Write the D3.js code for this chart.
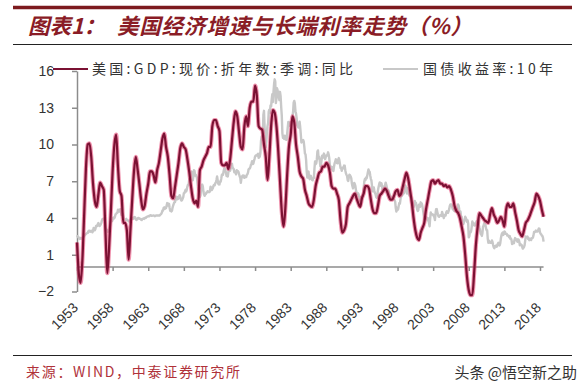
<!DOCTYPE html>
<html><head><meta charset="utf-8">
<script src="https://cdn.jsdelivr.net/npm/d3@7/dist/d3.min.js"></script>
<style>body{margin:0;background:#fff;} svg{display:block}</style>
</head><body><svg id="c" width="583" height="392"></svg>
<script>
// ---- data ----
const xTickLabels = ["1953","1958","1963","1968","1973","1978","1983","1988","1993","1998","2003","2008","2013","2018"];
const yTickValues = [-2, 1, 4, 7, 10, 13, 16];
const seriesNames = ["美国:GDP:现价:折年数:季调:同比", "国债收益率:10年"];
// quarterly nominal GDP yoy, 1953Q4 .. 2019Q2
const gdpYoY = [
 2.0,
 -0.5,-1.3,0.5,4.2,  8.0,10.0,10.1,9.0,  6.8,5.4,4.9,5.9,  6.9,6.6,6.3,2.8,
 -0.5,1.5,4.5,7.8,  10.0,10.8,8.2,6.2,  5.8,3.6,3.6,3.0,  0.6,3.0,5.5,7.8,
 9.0,8.0,6.8,5.5,  4.7,5.0,6.0,6.8,  7.8,7.8,7.5,6.9,  7.9,8.5,9.5,10.5,
 10.9,9.8,9.0,7.5,  5.8,5.6,6.5,7.5,  8.5,9.7,10.1,9.8,  9.6,8.8,7.8,6.6,
 5.6,5.2,5.4,4.9,  7.9,8.2,8.7,9.0,  9.3,9.8,9.8,11.5,  12.0,12.0,11.5,11.1,
 8.5,8.3,8.3,8.5,  8.0,8.8,10.3,11.8,  12.7,12.3,11.0,9.8,  9.6,11.5,12.3,11.5,
 13.0,13.5,13.5,14.8,  14.0,11.5,11.3,11.2,  10.0,9.0,7.1,9.0,  11.5,12.8,12.6,11.5,
 9.5,7.0,4.5,3.3,  4.8,7.5,9.8,10.8,  12.3,11.8,10.0,9.0,  7.8,7.4,7.2,6.3,
 5.8,5.2,5.0,4.9,  5.5,6.6,7.2,7.7,  7.8,8.2,8.2,8.5,  8.3,7.7,6.6,6.4,
 6.4,6.0,5.5,3.8,  2.8,3.0,3.5,4.9,  5.2,5.5,5.8,6.0,  5.6,5.2,4.9,5.6,
 6.0,6.6,6.6,6.4,  5.5,4.7,4.4,4.4,  5.0,5.8,6.0,6.2,  6.4,6.2,5.8,5.5,
 5.5,5.8,6.2,6.3,  5.8,6.0,6.6,7.2,  7.7,7.2,6.3,5.3,  4.0,3.0,2.4,2.2,
 2.8,3.2,3.6,4.7,  5.5,6.3,7.0,7.1,  6.8,7.0,7.1,6.8,  6.8,6.6,6.7,6.5,
 6.6,6.3,5.8,5.0,  4.6,4.4,4.0,3.3,  2.5,1.0,-0.8,-1.9,  -2.3,-2.3,-0.5,1.8,
 3.3,4.4,4.2,4.0,  3.8,3.7,3.6,4.3,  4.8,4.3,4.0,3.6,  3.8,4.1,3.8,3.3,
 4.7,5.2,4.9,4.9,  5.2,4.5,3.8,3.0,  2.7,2.5,3.0,3.6,  3.8,4.1,4.5,4.9,
 5.3,6.0,5.8,5.4,  4.7,4.1
];
// monthly 10y treasury yield, Dec 1953 .. Jun 2019
const treasury10y = [
 2.59,
 2.48,2.47,2.37,2.29,2.37,2.38,2.30,2.36,2.38,2.43,2.48,2.51,
 2.61,2.65,2.68,2.75,2.76,2.78,2.90,2.97,2.97,2.88,2.89,2.96,
 2.90,2.84,2.96,3.18,3.07,3.00,3.11,3.33,3.38,3.34,3.49,3.59,
 3.46,3.34,3.41,3.48,3.60,3.80,3.93,3.93,3.92,3.97,3.72,3.21,
 3.09,3.05,2.98,2.88,2.92,2.97,3.20,3.54,3.76,3.80,3.74,3.86,
 4.02,3.96,3.99,4.12,4.31,4.34,4.40,4.43,4.68,4.53,4.53,4.69,
 4.72,4.49,4.25,4.28,4.35,4.15,3.90,3.80,3.80,3.89,3.93,3.84,
 3.84,3.78,3.74,3.78,3.71,3.88,3.92,4.04,3.98,3.92,3.94,4.06,
 4.08,4.04,3.93,3.84,3.87,3.91,4.01,3.98,3.98,3.93,3.92,3.86,
 3.83,3.92,3.93,3.97,3.93,3.99,4.02,4.00,4.08,4.11,4.12,4.13,
 4.17,4.15,4.22,4.23,4.20,4.17,4.19,4.19,4.20,4.19,4.15,4.18,
 4.19,4.21,4.21,4.20,4.21,4.21,4.20,4.25,4.29,4.35,4.45,4.62,
 4.61,4.83,4.87,4.75,4.78,4.81,5.02,5.22,5.18,5.01,5.16,4.84,
 4.58,4.63,4.54,4.59,4.85,5.02,5.16,5.28,5.30,5.48,5.75,5.70,
 5.53,5.56,5.74,5.64,5.87,5.72,5.50,5.42,5.46,5.58,5.70,6.03,
 6.04,6.19,6.30,6.17,6.32,6.57,6.72,6.69,7.16,7.10,7.14,7.65,
 7.79,7.24,7.07,7.39,7.91,7.84,7.46,7.53,7.39,7.33,6.84,6.39,
 6.24,6.11,5.70,5.83,6.39,6.52,6.73,6.58,6.14,5.93,5.81,5.93,
 5.95,6.08,6.07,6.19,6.13,6.11,6.11,6.21,6.55,6.48,6.28,6.36,
 6.46,6.64,6.71,6.67,6.85,6.90,7.13,7.40,7.09,6.79,6.73,6.74,
 6.99,6.96,7.21,7.51,7.58,7.54,7.81,8.04,8.04,7.90,7.68,7.43,
 7.50,7.39,7.73,8.23,8.06,7.86,8.06,8.40,8.43,8.14,8.05,8.00,
 7.74,7.79,7.73,7.56,7.90,7.86,7.83,7.77,7.59,7.41,7.29,6.87,
 7.21,7.39,7.46,7.37,7.46,7.28,7.33,7.40,7.34,7.52,7.58,7.69,
 7.96,8.03,8.04,8.15,8.35,8.46,8.64,8.41,8.42,8.64,8.81,9.01,
 9.10,9.10,9.12,9.18,9.25,8.91,8.95,9.03,9.33,10.30,10.65,10.39,
 10.80,12.41,12.75,11.47,10.18,9.78,10.25,11.10,11.51,11.75,12.68,12.84,
 12.57,13.19,13.12,13.68,14.10,13.47,14.28,14.94,15.32,15.15,13.39,13.72,
 14.59,14.43,13.86,13.87,13.62,14.30,13.95,13.06,12.34,10.91,10.55,10.54,
 10.46,10.72,10.51,10.40,10.38,10.85,11.38,11.85,11.65,11.54,11.69,11.83,
 11.67,11.84,12.32,12.63,13.41,13.56,13.36,12.72,12.52,12.16,11.57,11.50,
 11.38,11.51,11.86,11.43,10.85,10.16,10.31,10.33,10.37,10.24,9.78,9.26,
 9.19,8.70,7.78,7.30,7.71,7.80,7.30,7.17,7.45,7.43,7.25,7.11,
 7.08,7.25,7.25,8.02,8.61,8.40,8.45,8.76,9.42,9.52,8.86,8.99,
 8.67,8.21,8.37,8.72,9.09,8.92,9.06,9.26,8.98,8.80,8.96,9.11,
 9.09,9.17,9.36,9.18,8.86,8.28,8.02,8.11,8.19,8.01,7.87,7.84,
 8.21,8.47,8.59,8.79,8.76,8.48,8.47,8.75,8.89,8.72,8.39,8.08,
 8.09,7.85,8.11,8.04,8.07,8.28,8.27,7.90,7.65,7.53,7.42,7.09,
 7.03,7.34,7.54,7.48,7.39,7.26,6.84,6.59,6.42,6.59,6.87,6.77,
 6.60,6.26,5.98,5.97,6.04,5.96,5.81,5.68,5.36,5.33,5.72,5.77,
 5.75,5.97,6.48,6.97,7.18,7.10,7.30,7.24,7.46,7.74,7.96,7.81,
 7.78,7.47,7.20,7.06,6.63,6.17,6.28,6.49,6.20,6.04,5.93,5.71,
 5.65,5.81,6.27,6.51,6.74,6.91,6.87,6.64,6.83,6.53,6.20,6.30,
 6.58,6.42,6.69,6.89,6.71,6.49,6.22,6.30,6.21,6.03,5.88,5.81,
 5.54,5.57,5.65,5.64,5.65,5.50,5.46,5.34,4.81,4.53,4.83,4.65,
 4.72,5.00,5.23,5.18,5.54,5.90,5.79,5.94,5.92,6.11,6.03,6.28,
 6.66,6.52,6.26,5.99,6.44,6.10,6.05,5.83,5.80,5.74,5.72,5.24,
 5.16,5.10,4.89,5.14,5.39,5.28,5.24,4.97,4.73,4.57,4.65,5.09,
 5.04,4.91,5.28,5.21,5.16,4.93,4.65,4.26,3.87,3.94,4.05,4.03,
 4.05,3.90,3.81,3.96,3.57,3.33,3.98,4.45,4.27,4.29,4.30,4.27,
 4.15,4.08,3.83,4.35,4.72,4.73,4.50,4.28,4.13,4.10,4.19,4.23,
 4.22,4.17,4.50,4.34,4.14,4.00,4.18,4.26,4.20,4.46,4.54,4.47,
 4.42,4.57,4.72,4.99,5.11,5.11,5.09,4.88,4.72,4.73,4.60,4.56,
 4.76,4.72,4.56,4.69,4.75,5.10,5.00,4.67,4.52,4.53,4.15,4.10,
 3.74,3.74,3.51,3.68,3.88,4.10,4.01,3.89,3.69,3.81,3.53,2.42,
 2.52,2.87,2.82,2.93,3.29,3.72,3.56,3.59,3.40,3.39,3.40,3.59,
 3.73,3.69,3.73,3.85,3.42,3.20,3.01,2.70,2.65,2.54,2.76,3.29,
 3.39,3.58,3.41,3.46,3.17,3.00,3.00,2.30,1.98,2.15,2.01,1.98,
 1.97,1.97,2.17,2.05,1.80,1.62,1.53,1.68,1.72,1.75,1.65,1.72,
 1.91,1.98,1.96,1.76,1.93,2.30,2.58,2.74,2.81,2.62,2.72,2.90,
 2.86,2.71,2.72,2.71,2.56,2.60,2.54,2.42,2.53,2.30,2.33,2.21,
 1.88,1.98,2.04,1.94,2.20,2.36,2.32,2.17,2.17,2.07,2.26,2.24,
 2.09,1.78,1.89,1.81,1.81,1.64,1.50,1.56,1.63,1.76,2.14,2.49,
 2.43,2.42,2.48,2.30,2.30,2.19,2.32,2.21,2.20,2.36,2.35,2.40,
 2.58,2.86,2.84,2.87,2.98,2.91,2.89,2.89,3.00,3.15,3.12,2.83,
 2.71,2.68,2.57,2.53,2.40,2.07
];

// ---- chart ----
const svg = d3.select("#c");
const cjk = "'Noto Sans CJK SC', 'Noto Sans', sans-serif";
const latin = "'Liberation Sans', Arial, sans-serif";
const darkRed = "#8a1c26";

// header
svg.append("line").attr("x1", 13).attr("x2", 572).attr("y1", 7.5).attr("y2", 7.5)
  .attr("stroke", "#7d1a1e").attr("stroke-width", 3.5);
const tg = svg.append("g").attr("font-family", cjk).attr("font-size", 21.5)
  .attr("font-style", "italic").attr("font-weight", 700).attr("fill", darkRed);
tg.append("text").attr("x", 28).attr("y", 34).text("图表1：");
tg.append("text").attr("x", 117).attr("y", 34).attr("textLength", 355).attr("lengthAdjust", "spacing")
  .text("美国经济增速与长端利率走势（%）");
svg.append("line").attr("x1", 13).attr("x2", 572).attr("y1", 44.5).attr("y2", 44.5)
  .attr("stroke", "#222").attr("stroke-width", 1);

// scales: x in quarter index (0 = first quarter shown, tick every 20 quarters)
const x = d3.scaleLinear().domain([0, 260]).range([77, 540]);
const y = d3.scaleLinear().domain([-2, 16]).range([291.5, 71]);

// y axis
const yAxis = svg.append("g").attr("transform", `translate(${x(0)},0)`)
  .call(d3.axisLeft(y).tickValues(yTickValues).tickSize(5).tickSizeOuter(0).tickPadding(18));
yAxis.select(".domain").attr("stroke", "#8c8c8c").attr("stroke-width", 1.5);
yAxis.selectAll(".tick line").attr("stroke", "#8c8c8c").attr("stroke-width", 1.5);
yAxis.selectAll(".tick text").attr("font-family", latin).attr("font-size", 14).attr("fill", "#333")
  .text(d => d < 0 ? "\u2212" + Math.abs(d) : d);

// x axis at zero
const tickIdx = xTickLabels.map((_, i) => i * 20);
const lastIdx = gdpYoY.length - 1;
const xAxis = svg.append("g").attr("transform", `translate(0,${y(0)})`)
  .call(d3.axisBottom(x).tickValues(tickIdx).tickSize(4).tickSizeOuter(0).tickFormat(""));
xAxis.select(".domain").attr("d", `M${x(0)},0H${x(lastIdx)}`)
  .attr("stroke", "#8c8c8c").attr("stroke-width", 1.5);
xAxis.selectAll(".tick line").attr("stroke", "#8c8c8c").attr("stroke-width", 1.5);

// x labels (rotated, below plot)
svg.append("g").selectAll("text").data(xTickLabels).join("text")
  .attr("transform", (d, i) => `translate(${x(tickIdx[i]) + 2},${y(-2) + 17}) rotate(-45)`)
  .attr("text-anchor", "end")
  .attr("font-family", latin).attr("font-size", 14).attr("fill", "#333")
  .text(d => d);

// lines
const yieldLine = d3.line().x((d, i) => x(i / 3)).y(d => y(d));
const gdpLine = d3.line().x((d, i) => x(i)).y(d => y(d)).curve(d3.curveMonotoneX);
svg.append("path").datum(treasury10y).attr("d", yieldLine)
  .attr("fill", "none").attr("stroke", "#c8c8c8").attr("stroke-width", 2.4).attr("stroke-linejoin", "round");
svg.append("path").datum(gdpYoY).attr("d", gdpLine)
  .attr("fill", "none").attr("stroke", "#e23a6c").attr("stroke-opacity", 0.55).attr("stroke-width", 4.2).attr("stroke-linejoin", "round");
svg.append("path").datum(gdpYoY).attr("d", gdpLine)
  .attr("fill", "none").attr("stroke", "#7b1133").attr("stroke-width", 2.2).attr("stroke-linejoin", "round");

// legend
const lg = svg.append("g");
lg.append("line").attr("x1", 53).attr("x2", 88).attr("y1", 69).attr("y2", 69)
  .attr("stroke", "#7b1133").attr("stroke-width", 2.2);
lg.append("text").attr("x", 92).attr("y", 74).attr("font-family", cjk).attr("font-size", 14)
  .attr("fill", "#333").attr("textLength", 261).attr("lengthAdjust", "spacing").text(seriesNames[0]);
lg.append("line").attr("x1", 383).attr("x2", 418).attr("y1", 69).attr("y2", 69)
  .attr("stroke", "#c8c8c8").attr("stroke-width", 2.2);
lg.append("text").attr("x", 423).attr("y", 74).attr("font-family", cjk).attr("font-size", 14)
  .attr("fill", "#333").attr("textLength", 130).attr("lengthAdjust", "spacing").text(seriesNames[1]);

// footer
svg.append("line").attr("x1", 13).attr("x2", 572).attr("y1", 355.5).attr("y2", 355.5)
  .attr("stroke", "#222").attr("stroke-width", 1);
svg.append("text").attr("x", 26).attr("y", 377).attr("font-family", cjk).attr("font-size", 14)
  .attr("fill", "#b0323a").attr("textLength", 214).attr("lengthAdjust", "spacing").text("来源：WIND，中泰证券研究所");
svg.append("text").attr("x", 577).attr("y", 378).attr("text-anchor", "end").attr("font-family", cjk).attr("font-size", 15)
  .attr("fill", "#333").text("头条 @悟空新之助");
</script></body></html>
